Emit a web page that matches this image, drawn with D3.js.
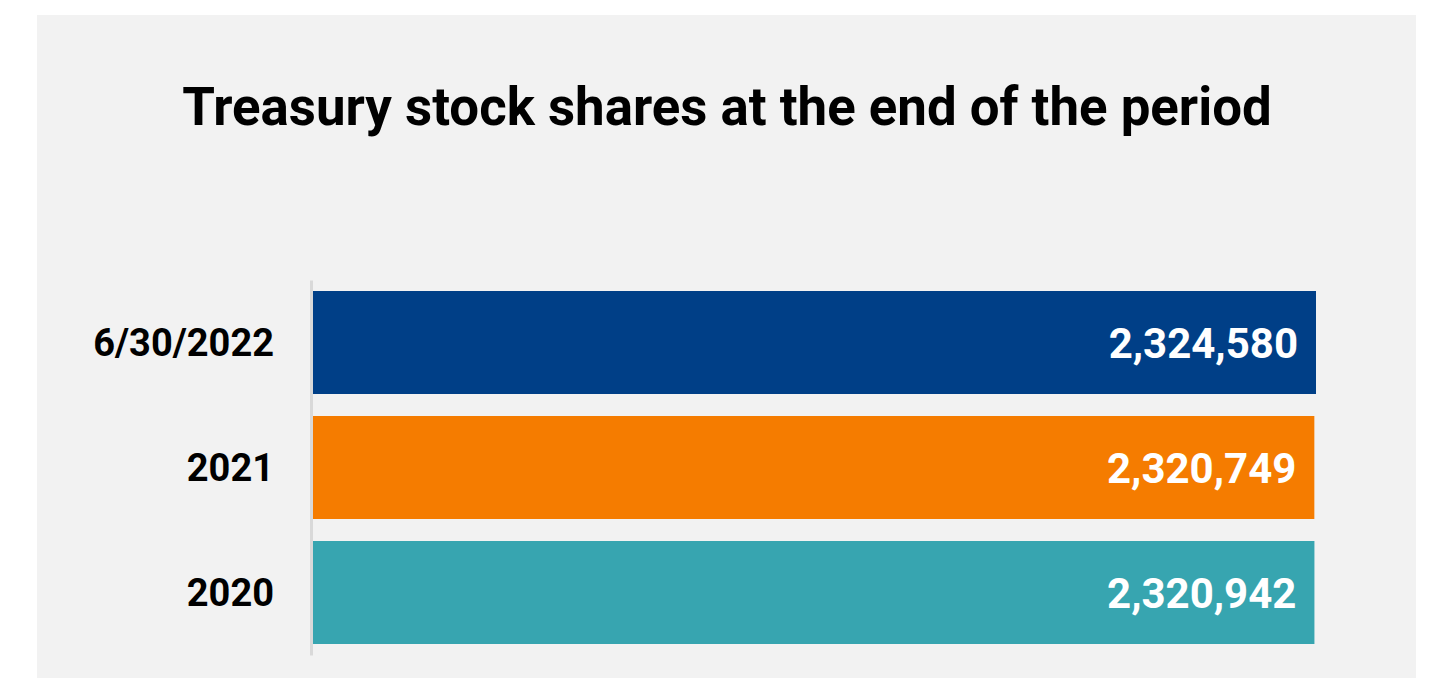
<!DOCTYPE html>
<html>
<head>
<meta charset="utf-8">
<script src="https://cdn.jsdelivr.net/npm/d3@7"></script>
<style>
  body { margin: 0; background: #ffffff; }
  text { font-family: Roboto, "Liberation Sans", sans-serif; }
</style>
</head>
<body>
<div id="chart"></div>
<script>
var categories = ["6/30/2022", "2021", "2020"];
var values = [2324580, 2320749, 2320942];
var colors = ["#003f87", "#f57c00", "#37a5b0"];
var title = "Treasury stock shares at the end of the period";

var width = 1434, height = 678;

var svg = d3.select("#chart").append("svg")
    .attr("width", width)
    .attr("height", height);

// gray panel
svg.append("rect")
    .attr("x", 37).attr("y", 15)
    .attr("width", 1379).attr("height", 663)
    .attr("fill", "#f2f2f2");

svg.append("text")
    .attr("x", 727).attr("y", 125)
    .attr("text-anchor", "middle")
    .attr("font-size", 52.8)
    .attr("font-weight", 700)
    .attr("fill", "#000")
    .text(title);

var x = d3.scaleLinear()
    .domain([0, d3.max(values)])
    .range([312, 1316]);

var y = d3.scaleBand()
    .domain(categories)
    .range([280, 655])
    .paddingInner(0.176)
    .paddingOuter(0.088);

var rows = categories.map(function(c, i) {
    return { cat: c, value: values[i], color: colors[i] };
});

svg.selectAll("rect.bar")
    .data(rows)
    .enter().append("rect")
    .attr("class", "bar")
    .attr("x", x(0))
    .attr("y", function(d) { return y(d.cat); })
    .attr("width", function(d) { return x(d.value) - x(0); })
    .attr("height", y.bandwidth())
    .attr("fill", function(d) { return d.color; });

// axis line + category labels
var yAxis = svg.append("g")
    .attr("transform", "translate(311,0)")
    .call(d3.axisLeft(y).tickSize(0).tickPadding(37));
yAxis.select(".domain")
    .attr("stroke", "#d9d9d9")
    .attr("stroke-width", 3);
yAxis.selectAll(".tick text")
    .attr("font-size", 38)
    .attr("font-weight", 700)
    .attr("fill", "#000")
    .attr("dy", "0.36em");

svg.selectAll("text.val")
    .data(rows)
    .enter().append("text")
    .attr("class", "val")
    .attr("x", function(d) { return x(d.value) - 18; })
    .attr("y", function(d) { return y(d.cat) + y.bandwidth() / 2; })
    .attr("dy", "0.37em")
    .attr("text-anchor", "end")
    .attr("font-size", 42)
    .attr("font-weight", 700)
    .attr("fill", "#ffffff")
    .text(function(d) { return d3.format(",")(d.value); });
</script>
</body>
</html>
